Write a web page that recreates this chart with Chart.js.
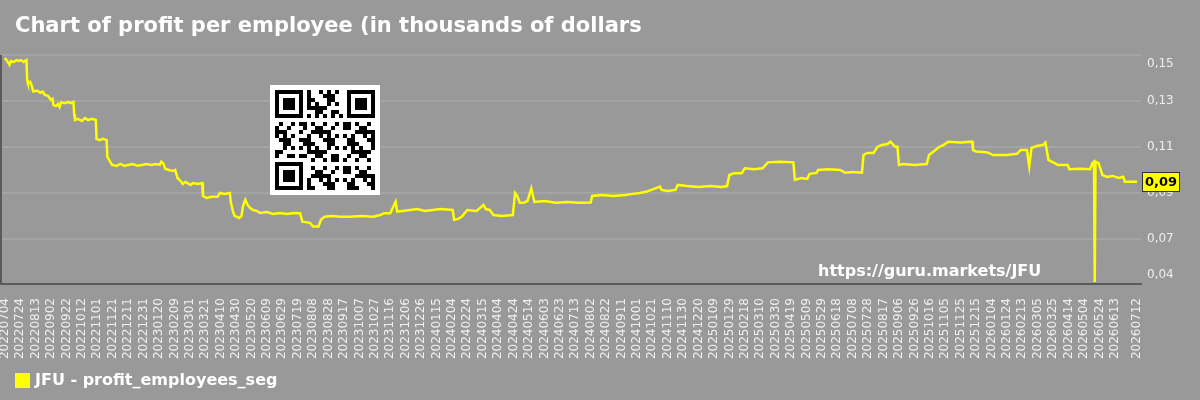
<!DOCTYPE html>
<html>
<head>
<meta charset="utf-8">
<title>JFU profit per employee</title>
<script src="https://cdn.jsdelivr.net/npm/chart.js@4.4.1/dist/chart.umd.min.js"></script>
<style>
  html, body { margin: 0; padding: 0; background: #999999; }
  #wrap { width: 1200px; height: 400px; position: relative; }
</style>
</head>
<body>
<div id="wrap"><canvas id="chart" width="1200" height="400"></canvas></div>
<script>
'use strict';

// ─── data ───────────────────────────────────
const START_DATE = '20220704';

// day offset from START_DATE
const dayIdx = [
  0, 3, 6, 8, 12, 15, 18, 21, 24, 28,
  29, 30, 33, 35, 37, 42, 46, 49, 52, 56,
  60, 62, 63, 66, 69, 71, 73, 78, 82, 85,
  89, 90, 91, 95, 100, 104, 108, 113, 118, 119,
  123, 127, 132, 133, 136, 139, 145, 150, 155, 160,
  166, 172, 178, 184, 190, 196, 201, 203, 206, 208,
  213, 218, 221, 224, 228, 231, 234, 237, 241, 244,
  250, 256, 257, 262, 268, 276, 279, 285, 292, 293,
  296, 298, 304, 307, 309, 312, 315, 318, 322, 327,
  331, 340, 348, 357, 366, 375, 383, 386, 396, 400,
  407, 410, 415, 425, 435, 448, 462, 478, 487, 492,
  500, 507, 509, 516, 526, 535, 545, 555, 565, 581,
  583, 588, 593, 600, 612, 621, 624, 629, 634, 645,
  659, 662, 665, 668, 673, 678, 683, 687, 700, 715,
  730, 745, 760, 762, 775, 790, 805, 815, 824, 833,
  850, 852, 860, 870, 873, 885, 900, 915, 930, 937,
  940, 946, 956, 960, 972, 983, 990, 1005, 1023, 1025,
  1033, 1041, 1044, 1053, 1055, 1068, 1084, 1090, 1100, 1112,
  1114, 1119, 1127, 1132, 1138, 1145, 1149, 1155, 1158, 1160,
  1166, 1180, 1196, 1199, 1205, 1212, 1218, 1224, 1240, 1255,
  1256, 1260, 1275, 1282, 1300, 1313, 1318, 1326, 1329, 1332,
  1340, 1347, 1350, 1354, 1362, 1366, 1379, 1381, 1395, 1408,
  1411, 1413, 1414, 1415, 1419, 1424, 1430, 1437, 1445, 1451, 1453, 1469
];

const profit = [
  0.1487, 0.1474, 0.1457, 0.1474, 0.1470, 0.1478, 0.1474, 0.1478, 0.1470, 0.1478,
  0.1390, 0.1378, 0.1383, 0.1365, 0.1341, 0.1345, 0.1336, 0.1341, 0.1326, 0.1322,
  0.1304, 0.1309, 0.1283, 0.1278, 0.1287, 0.1274, 0.1294, 0.1290, 0.1296, 0.1291,
  0.1296, 0.1240, 0.1217, 0.1222, 0.1213, 0.1226, 0.1217, 0.1222, 0.1217, 0.1135,
  0.1130, 0.1135, 0.1130, 0.1057, 0.1040, 0.1022, 0.1018, 0.1026, 0.1018, 0.1022,
  0.1026, 0.1018, 0.1022, 0.1026, 0.1022, 0.1026, 0.1022, 0.1036, 0.1026, 0.1005,
  0.1000, 0.0996, 0.1000, 0.0965, 0.0952, 0.0939, 0.0948, 0.0943, 0.0935, 0.0943,
  0.0939, 0.0943, 0.0887, 0.0878, 0.0883, 0.0883, 0.0900, 0.0896, 0.0900, 0.0861,
  0.0820, 0.0800, 0.0791, 0.0800, 0.0843, 0.0870, 0.0848, 0.0835, 0.0826, 0.0822,
  0.0813, 0.0817, 0.0809, 0.0813, 0.0809, 0.0813, 0.0812, 0.0775, 0.0770, 0.0754,
  0.0754, 0.0783, 0.0797, 0.0800, 0.0796, 0.0797, 0.0800, 0.0797, 0.0804, 0.0812,
  0.0812, 0.0862, 0.0819, 0.0822, 0.0826, 0.0830, 0.0822, 0.0826, 0.0830, 0.0826,
  0.0783, 0.0787, 0.0797, 0.0826, 0.0822, 0.0848, 0.0830, 0.0826, 0.0804, 0.0800,
  0.0804, 0.0899, 0.0885, 0.0857, 0.0857, 0.0865, 0.0920, 0.0861, 0.0865, 0.0857,
  0.0861, 0.0857, 0.0858, 0.0887, 0.0891, 0.0887, 0.0891, 0.0896, 0.0900, 0.0906,
  0.0928, 0.0913, 0.0909, 0.0913, 0.0935, 0.0930, 0.0926, 0.0930, 0.0926, 0.0930,
  0.0978, 0.0986, 0.0986, 0.1007, 0.1003, 0.1007, 0.1033, 0.1036, 0.1033, 0.0957,
  0.0965, 0.0961, 0.0983, 0.0987, 0.1000, 0.1003, 0.1000, 0.0988, 0.0991, 0.0988,
  0.1065, 0.1074, 0.1074, 0.1100, 0.1109, 0.1113, 0.1123, 0.1101, 0.1101, 0.1022,
  0.1026, 0.1022, 0.1026, 0.1065, 0.1080, 0.1100, 0.1109, 0.1123, 0.1119, 0.1123,
  0.1087, 0.1080, 0.1076, 0.1065, 0.1065, 0.1070, 0.1087, 0.1087, 0.1015, 0.1096,
  0.1105, 0.1109, 0.1119, 0.1043, 0.1030, 0.1022, 0.1022, 0.1003, 0.1005, 0.1003,
  0.1030, 0.1036, 0.0513, 0.1036, 0.1030, 0.0978, 0.0970, 0.0974, 0.0965, 0.0970, 0.0949, 0.0949
];

const xTickLabels = [
  '20220704', '20220724', '20220813', '20220902', '20220922', '20221012', '20221101', '20221121', '20221211', '20221231',
  '20230120', '20230209', '20230301', '20230321', '20230410', '20230430', '20230520', '20230609', '20230629', '20230719',
  '20230808', '20230828', '20230917', '20231007', '20231027', '20231116', '20231206', '20231226', '20240115', '20240204',
  '20240224', '20240315', '20240404', '20240424', '20240514', '20240603', '20240623', '20240713', '20240802', '20240822',
  '20240911', '20241001', '20241021', '20241110', '20241130', '20241220', '20250109', '20250129', '20250218', '20250310',
  '20250330', '20250419', '20250509', '20250529', '20250618', '20250708', '20250728', '20250817', '20250906', '20250926',
  '20251016', '20251105', '20251125', '20251215', '20260104', '20260124', '20260213', '20260305', '20260325', '20260414',
  '20260504', '20260524', '20260613', '20260712'
];

const yTickValues = [0.15, 0.13, 0.11, 0.09, 0.07, 0.0504];
const yTickLabels = ['0,15', '0,13', '0,11', '0,09', '0,07', '0,04'];

const seriesName = 'JFU - profit_employees_seg';
const lastLabel  = '0,09';

// ─── helpers ────────────────────────────────
const toUTC = (s) => Date.UTC(+s.slice(0, 4), +s.slice(4, 6) - 1, +s.slice(6, 8));
const dayOf = (s) => Math.round((toUTC(s) - toUTC(START_DATE)) / 86400000);
const xTickDays = xTickLabels.map(dayOf);

const FONT = 'DejaVu Sans';
const YELLOW = '#ffff00';

// ─── decorations (title, legend, watermark, qr, y labels, last value) ──
const decor = {
  id: 'decor',
  beforeDraw(chart) {
    const { ctx } = chart;
    ctx.save();
    ctx.fillStyle = '#999999';
    ctx.fillRect(0, 0, chart.width, chart.height);
    ctx.restore();
  },
  afterDatasetsDraw(chart) {
    const { ctx, chartArea: a, scales } = chart;
    ctx.save();

    // left frame line
    ctx.strokeStyle = '#5a5a5a';
    ctx.lineWidth = 2;
    ctx.beginPath();
    ctx.moveTo(a.left, a.top);
    ctx.lineTo(a.left, a.bottom);
    ctx.stroke();

    // title
    ctx.fillStyle = '#ffffff';
    ctx.font = `bold 21px "${FONT}"`;
    ctx.textAlign = 'left';
    ctx.textBaseline = 'alphabetic';
    ctx.fillText('Chart of profit per employee (in thousands of dollars', 15, 32);

    // y tick labels, clamped inside the plot height
    ctx.font = `12px "${FONT}"`;
    ctx.fillStyle = '#eeeeee';
    ctx.textBaseline = 'middle';
    yTickValues.forEach((v, i) => {
      let y = scales.y.getPixelForValue(v);
      y = Math.min(Math.max(y, a.top + 9), a.bottom - 9);
      ctx.fillText(yTickLabels[i], a.right + 6, y);
    });

    // watermark
    ctx.font = `bold 16px "${FONT}"`;
    ctx.fillStyle = '#ffffff';
    ctx.textBaseline = 'alphabetic';
    ctx.fillText('https://guru.markets/JFU', 818, 276);

    // qr-like block
    const qx = 270, qy = 85, m = 4, n = 25;
    ctx.fillStyle = '#ffffff';
    ctx.fillRect(qx, qy, 110, 110);
    ctx.fillStyle = '#000000';
    const finder = (c, r) => {
      ctx.fillRect(qx + 5 + c * m, qy + 5 + r * m, 7 * m, 7 * m);
      ctx.fillStyle = '#ffffff';
      ctx.fillRect(qx + 5 + (c + 1) * m, qy + 5 + (r + 1) * m, 5 * m, 5 * m);
      ctx.fillStyle = '#000000';
      ctx.fillRect(qx + 5 + (c + 2) * m, qy + 5 + (r + 2) * m, 3 * m, 3 * m);
    };
    finder(0, 0); finder(18, 0); finder(0, 18);
    for (let r = 0; r < n; r++) {
      for (let c = 0; c < n; c++) {
        const inFinder = (r < 8 && c < 8) || (r < 8 && c > 16) || (r > 16 && c < 8);
        if (inFinder) continue;
        let on;
        if (r === 6) on = c % 2 === 0;
        else if (c === 6) on = r % 2 === 0;
        else on = ((r * 31 + c * 17 + r * c * 7) % 11) < 5;
        if (on) ctx.fillRect(qx + 5 + c * m, qy + 5 + r * m, m, m);
      }
    }

    // last value box
    const meta = chart.getDatasetMeta(0);
    const last = meta.data[meta.data.length - 1];
    const by = Math.round(last.y);
    ctx.fillStyle = YELLOW;
    ctx.fillRect(a.right + 1, by - 10, 38, 20);
    ctx.strokeStyle = '#333333';
    ctx.lineWidth = 1;
    ctx.strokeRect(a.right + 1.5, by - 9.5, 37, 19);
    ctx.fillStyle = '#000000';
    ctx.font = `bold 13px "${FONT}"`;
    ctx.textAlign = 'center';
    ctx.textBaseline = 'middle';
    ctx.fillText(lastLabel, a.right + 20, by + 1);

    // legend
    ctx.fillStyle = YELLOW;
    ctx.fillRect(15, 373, 15, 15);
    ctx.fillStyle = '#ffffff';
    ctx.font = `bold 16px "${FONT}"`;
    ctx.textAlign = 'left';
    ctx.textBaseline = 'middle';
    ctx.fillText(seriesName, 35, 381);

    ctx.restore();
  },
};

// ─── chart ──────────────────────────────────
new Chart(document.getElementById('chart').getContext('2d'), {
  type: 'line',
  data: {
    datasets: [{
      label: seriesName,
      data: dayIdx.map((d, i) => ({ x: d, y: profit[i] })),
      borderColor: YELLOW,
      borderWidth: 2.5,
      pointRadius: 0,
      tension: 0,
      fill: false,
    }],
  },
  options: {
    responsive: false,
    devicePixelRatio: 1,
    animation: false,
    layout: { padding: { top: 55, left: 1, right: 0, bottom: 0 } },
    plugins: {
      legend: { display: false },
      title: { display: false },
      tooltip: { enabled: false },
    },
    scales: {
      x: {
        type: 'linear',
        min: -5,
        max: 1474,
        afterBuildTicks: (scale) => { scale.ticks = xTickDays.map((v) => ({ value: v })); },
        afterFit: (scale) => {
          scale.height = 116;
          scale.paddingLeft = 0;
          scale.paddingRight = 0;
        },
        grid: { display: false, drawTicks: false },
        border: { display: true, color: '#5a5a5a', width: 2 },
        ticks: {
          autoSkip: false,
          minRotation: 90,
          maxRotation: 90,
          padding: 14,
          color: '#f0f0f0',
          font: { family: FONT, size: 12 },
          callback: (v, i) => xTickLabels[i],
        },
      },
      y: {
        type: 'linear',
        position: 'right',
        min: 0.0504,
        max: 0.15,
        afterBuildTicks: (scale) => { scale.ticks = yTickValues.map((v) => ({ value: v })); },
        afterFit: (scale) => { scale.width = 59; },
        grid: {
          drawTicks: false,
          lineWidth: 2,
          color: (c) => (c.tick && c.tick.value < 0.06 ? 'rgba(0,0,0,0)' : '#a4a4a4'),
        },
        border: { display: false },
        ticks: { display: false },
      },
    },
  },
  plugins: [decor],
});
</script>
</body>
</html>
